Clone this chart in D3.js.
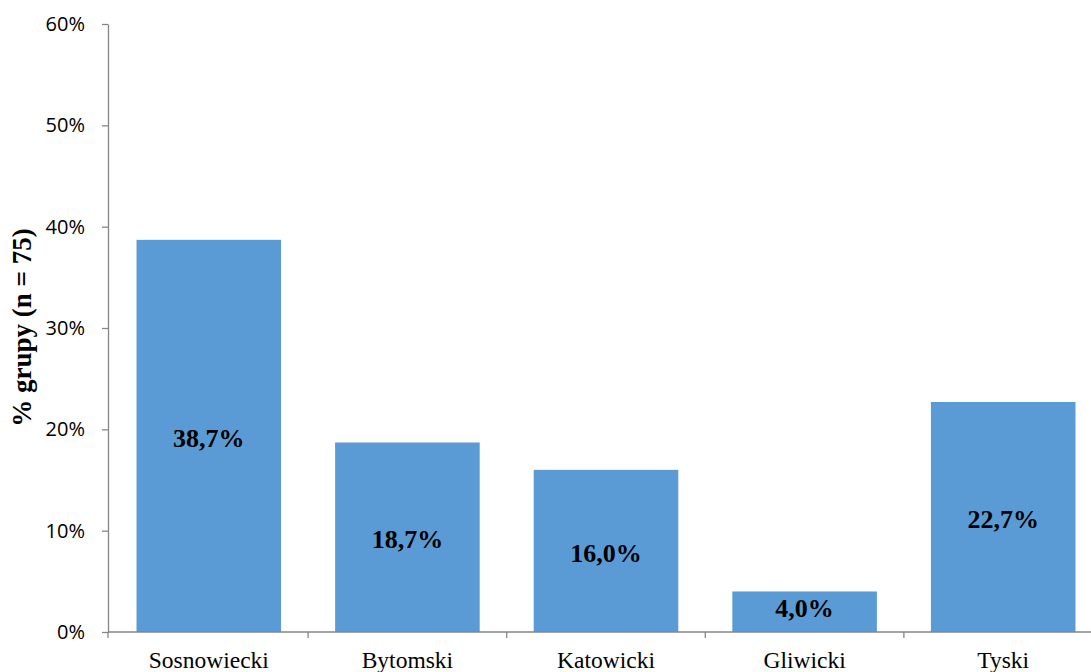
<!DOCTYPE html>
<html>
<head>
<meta charset="utf-8">
<script src="https://cdn.jsdelivr.net/npm/d3@7/dist/d3.min.js"></script>
<style>
  html, body { margin: 0; padding: 0; background: #fff; overflow: hidden; }
  svg { display: block; }
</style>
</head>
<body>
<svg id="chart" width="1091" height="672"></svg>
<script>
// Powiaty (county groups) and the share of the group in each
const categories = ["Sosnowiecki", "Bytomski", "Katowicki", "Gliwicki", "Tyski"];
const values = [38.7, 18.7, 16.0, 4.0, 22.7];
const valueLabels = ["38,7%", "18,7%", "16,0%", "4,0%", "22,7%"];
const yTicks = [0, 10, 20, 30, 40, 50, 60];
const yTitle = "% grupy (n = 75)";

const svg = d3.select("#chart");
const axisLeftX = 108;
const plotTop = 24;
const plotBottom = 632;
const plotRight = 1101;

const x = d3.scaleBand()
  .domain(categories)
  .range([axisLeftX + 1.5, plotRight + 1.5])
  .paddingInner(0.272)
  .paddingOuter(0.136);

const y = d3.scaleLinear()
  .domain([0, 60])
  .range([plotBottom, plotTop]);

const axisColor = "#868686";

// Bars
svg.append("g")
  .selectAll("rect")
  .data(values)
  .join("rect")
  .attr("x", (d, i) => x(categories[i]))
  .attr("y", d => y(d))
  .attr("width", x.bandwidth())
  .attr("height", d => y(0) - y(d))
  .attr("fill", "#5B9BD5");

// Value labels in the middle of each bar, kept clear of the baseline on short bars
svg.append("g")
  .selectAll("text")
  .data(values)
  .join("text")
  .attr("x", (d, i) => x(categories[i]) + x.bandwidth() / 2)
  .attr("y", d => Math.min((y(d) + y(0)) / 2, y(0) - 26))
  .attr("dy", "0.43em")
  .attr("text-anchor", "middle")
  .attr("font-family", "'Liberation Serif', 'Times New Roman', serif")
  .attr("font-weight", "bold")
  .attr("font-size", 26)
  .attr("fill", "#000")
  .text((d, i) => valueLabels[i]);

// Y axis
const yAxis = d3.axisLeft(y)
  .tickValues(yTicks)
  .tickFormat(d => d + "%")
  .tickSize(6)
  .tickSizeOuter(0)
  .tickPadding(17);

const gy = svg.append("g")
  .attr("transform", `translate(${axisLeftX},0)`)
  .call(yAxis);
gy.select(".domain").attr("stroke", axisColor).attr("stroke-width", 1.3);
gy.selectAll(".tick line").attr("stroke", axisColor).attr("stroke-width", 1.3);
gy.selectAll(".tick text")
  .attr("font-family", "'Open Sans', 'Noto Sans', sans-serif")
  .attr("font-size", 20)
  .attr("fill", "#000");

// X axis: ticks sit on the band boundaries
const boundaries = categories.map(c => x(c) - x.step() * x.paddingInner() / 2);
boundaries[0] = axisLeftX;
const gx = svg.append("g");
gx.append("line")
  .attr("x1", axisLeftX).attr("x2", plotRight)
  .attr("y1", y(0)).attr("y2", y(0))
  .attr("stroke", axisColor).attr("stroke-width", 1.3);
gx.selectAll("line.tick")
  .data(boundaries)
  .join("line")
  .attr("class", "tick")
  .attr("x1", d => d).attr("x2", d => d)
  .attr("y1", y(0)).attr("y2", y(0) + 6)
  .attr("stroke", axisColor).attr("stroke-width", 1.3);
gx.selectAll("text")
  .data(categories)
  .join("text")
  .attr("x", d => x(d) + x.bandwidth() / 2)
  .attr("y", 668)
  .attr("text-anchor", "middle")
  .attr("font-family", "'Liberation Serif', 'Times New Roman', serif")
  .attr("font-size", 23.5)
  .attr("fill", "#000")
  .text(d => d);

// Y axis title
svg.append("text")
  .attr("transform", "translate(31,327.5) rotate(-90)")
  .attr("text-anchor", "middle")
  .attr("font-family", "'Liberation Serif', 'Times New Roman', serif")
  .attr("font-weight", "bold")
  .attr("font-size", 27)
  .attr("fill", "#000")
  .text(yTitle);
</script>
</body>
</html>
